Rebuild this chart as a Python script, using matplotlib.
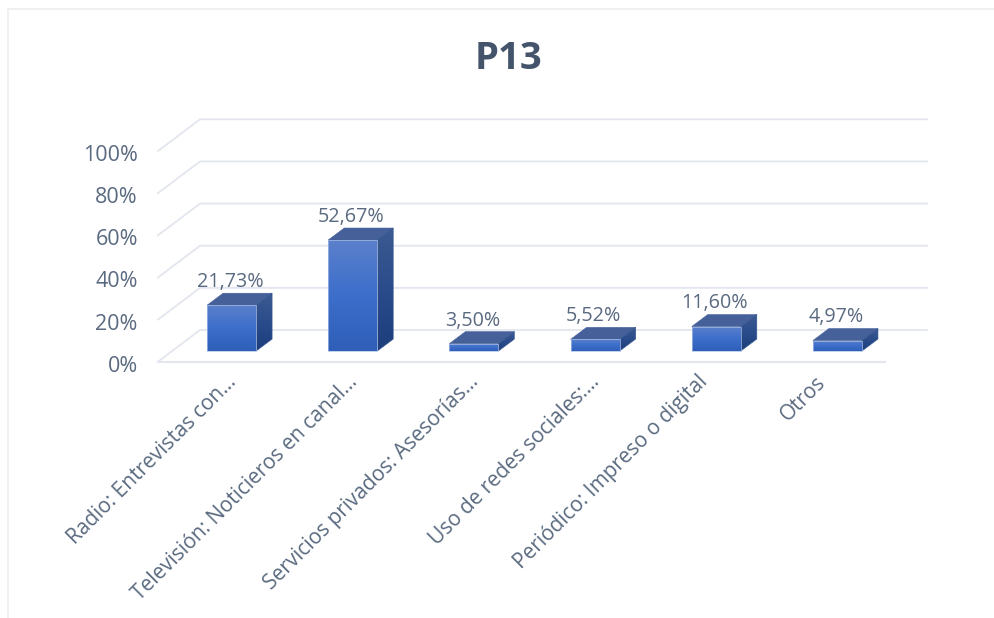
import matplotlib
matplotlib.use("Agg")
import matplotlib.pyplot as plt
import matplotlib.colors as mcolors
from matplotlib.lines import Line2D
from matplotlib.patches import Polygon
from matplotlib.transforms import ScaledTranslation
import numpy as np

categories = ["Radio: Entrevistas con...", "Televisión: Noticieros en canal...",
              "Servicios privados: Asesorías...", "Uso de redes sociales:...",
              "Periódico: Impreso o digital", "Otros"]
values = [21.73, 52.67, 3.50, 5.52, 11.60, 4.97]
value_labels = ["21,73%", "52,67%", "3,50%", "5,52%", "11,60%", "4,97%"]
y_ticks = [0, 20, 40, 60, 80, 100]
y_tick_labels = ["0%", "20%", "40%", "60%", "80%", "100%"]

plt.rcParams['font.family'] = ['Open Sans', 'DejaVu Sans']

W, H = 995, 618
TEXT = "#5a6a80"
GRID = "#e3e6ee"

fig = plt.figure(figsize=(W / 100, H / 100), dpi=100)
# front plane of the fake 3d box, in pixels
ax = fig.add_axes([158 / W, 1 - 361.7 / H, 727 / W, 210.7 / H])
ax.set_xlim(-0.5, 5.5)
ax.set_ylim(0, 100)

PX = 6 / 727      # x units per pixel
PY = 100 / 210.7  # y units per pixel
wall_dx, wall_dy = 42 * PX, 31.7 * PY
bar_off_x, bar_off_y = 13 * PX, 10.7 * PY
bar_dx, bar_dy = 16 * PX, 12 * PY
bar_w = 49 * PX


def gradient_poly(points, top, mid, bottom, zorder, edge):
    points = np.array(points)
    cmap = mcolors.LinearSegmentedColormap.from_list("", [top, mid, bottom])
    grad = np.linspace(0, 1, 64).reshape(-1, 1)
    im = ax.imshow(grad, cmap=cmap, aspect="auto", zorder=zorder, interpolation="bilinear",
                   extent=[points[:, 0].min(), points[:, 0].max(), points[:, 1].min(), points[:, 1].max()])
    patch = Polygon(points, closed=True, fc="none", ec=edge, lw=0.5, zorder=zorder + 0.1)
    ax.add_patch(patch)
    im.set_clip_path(patch)


# gridlines, side wall and back wall
for v in y_ticks:
    ax.plot([-0.5, -0.5 + wall_dx, 5.5 + wall_dx], [v, v + wall_dy, v + wall_dy],
            color=GRID, lw=1.3, zorder=1, clip_on=False, solid_joinstyle="miter")
ax.plot([-0.5, 5.5], [0, 0], color=GRID, lw=1.5, zorder=1, clip_on=False)

# the bars
for i, v in enumerate(values):
    x0 = i - bar_w / 2 + bar_off_x
    x1 = x0 + bar_w
    y0 = bar_off_y
    y1 = y0 + v
    gradient_poly([(x1, y0), (x1 + bar_dx, y0 + bar_dy), (x1 + bar_dx, y1 + bar_dy), (x1, y1)],
                  "#3c5a92", "#2a4c8a", "#1d3d7b", 3, "#34558f")
    top = Polygon([(x0, y1), (x1, y1), (x1 + bar_dx, y1 + bar_dy), (x0 + bar_dx, y1 + bar_dy)],
                  closed=True, fc="#46619a", ec="#46619a", lw=0.4, zorder=3)
    ax.add_patch(top)
    gradient_poly([(x0, y0), (x1, y0), (x1, y1), (x0, y1)], "#5b80cb", "#3c6ecb", "#2f5fb8", 3.5, "#a9bfe6")
    ax.annotate(value_labels[i], (x0 + bar_w / 2, y1 + bar_dy), xytext=(-1, 8),
                textcoords="offset points", ha="center", va="center",
                fontsize=14.2, color=TEXT, zorder=5)

ax.set_xlim(-0.5, 5.5)
ax.set_ylim(0, 100)
for s in ax.spines.values():
    s.set_visible(False)
ax.patch.set_visible(False)

ax.set_yticks(y_ticks)
ax.set_yticklabels(y_tick_labels, fontsize=15.5, color=TEXT)
ax.tick_params(axis="y", length=0, pad=14.5)
ax.set_xticks(range(len(categories)))
ax.set_xticklabels(categories, fontsize=15, color=TEXT, rotation=45, ha="right",
                   va="top", rotation_mode="anchor")
ax.tick_params(axis="x", length=0, pad=0)

# labels end at slightly different places (pixels right of the tick)
label_shift = [7, 7, 7, 7, -6, -9]
for lab, dx in zip(ax.get_xticklabels(), label_shift):
    lab.set_transform(lab.get_transform() + ScaledTranslation(dx / 100, -10 / 100, fig.dpi_scale_trans))
for lab in ax.get_yticklabels():
    lab.set_transform(lab.get_transform() + ScaledTranslation(0, -2 / 100, fig.dpi_scale_trans))

fig.text(509 / W, 1 - 59 / H, "P13", fontsize=27.5, fontweight="bold", color="#44546a",
         ha="center", va="center")

# screenshot frame
frame = "#eeeeee"
fig.add_artist(Line2D([8 / W, 8 / W], [0, 1 - 9 / H], color=frame, lw=1.2))
fig.add_artist(Line2D([8 / W, 1], [1 - 9 / H, 1 - 9 / H], color=frame, lw=1.2))

fig.savefig("out.png", dpi=100)
